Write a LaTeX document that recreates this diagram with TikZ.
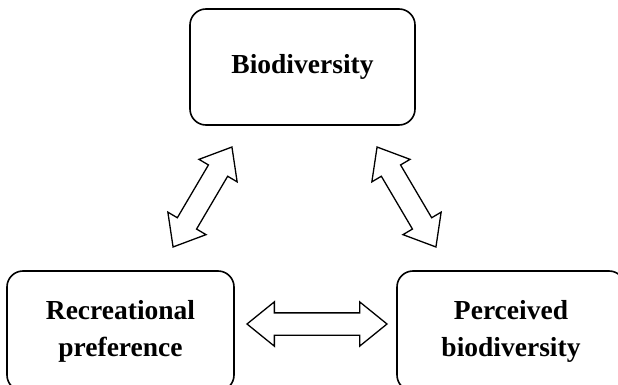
\documentclass[tikz,border=0pt]{standalone}
\usepackage{fontspec}
\setmainfont{Liberation Serif}
\usepackage{tikz}
\usetikzlibrary{shapes.arrows}
\tikzset{
  % rounded box
  rbox/.style={draw,rounded corners=16pt,line width=1.6pt,inner sep=0pt,align=center,
    font=\fontsize{27.5}{37}\selectfont\bfseries},
  % hollow double arrow
  dblarrow/.style={double arrow,draw,line width=1.3pt,inner xsep=0pt,inner ysep=10.5pt,
    double arrow head extend=11pt,double arrow tip angle=78},
}

\begin{document}
\begin{tikzpicture}[x=1pt,y=-1pt]
  \useasboundingbox (0,0) rectangle (618,385);
  %%%%%%%%%%%%%%%%%%%%%%%%%%%%%%%%%%%%%%%
  \node[rbox,minimum width=225pt,minimum height=116pt] (bio) at (302.5,67) {Biodiversity};
  \node[rbox,minimum width=227pt,minimum height=120pt] (rec) at (120.5,331) {Recreational\\preference};
  \node[rbox,minimum width=228pt,minimum height=120pt] (perc) at (511,331) {Perceived\\biodiversity};
  %%%%%%%%%%%%%%%%%%%%%%%%%%%%%%%%%%%%%%%
  \node[dblarrow,minimum height=116pt,rotate=59.5] (biorec) at (202.5,197) {};
  \node[dblarrow,minimum height=116pt,rotate=-59.5] (bioperc) at (406.5,197) {};
  \node[dblarrow,minimum height=140pt] (recperc) at (317,324) {};
\end{tikzpicture}
\end{document}
